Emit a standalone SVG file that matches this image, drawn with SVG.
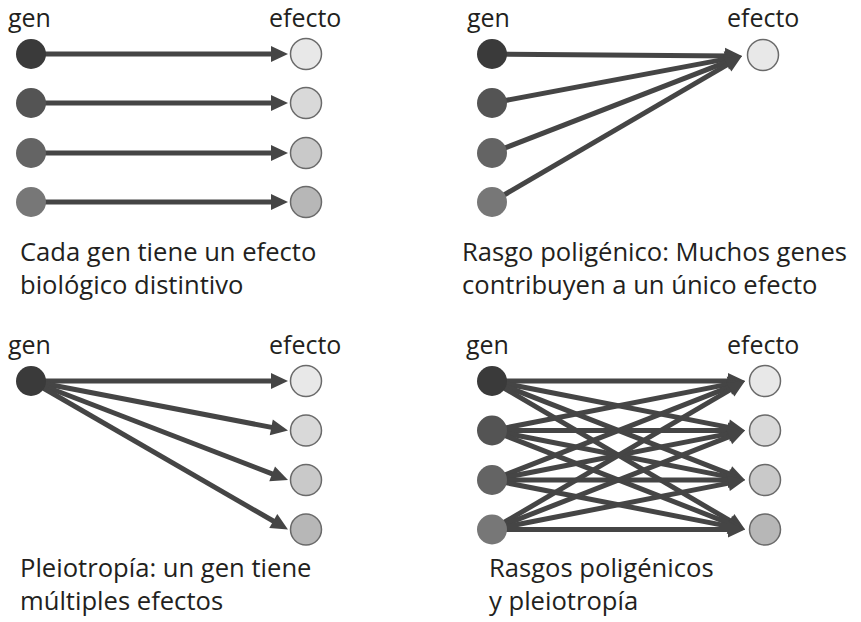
<svg xmlns="http://www.w3.org/2000/svg" width="861" height="622" viewBox="0 0 861 622">
<style>
text{font-family:"Open Sans","Noto Sans","Liberation Sans",sans-serif;fill:#231f20;font-size:25.6px}
.lbl{font-size:25px}
.c line{stroke:#454545;stroke-width:5;marker-end:url(#ah)}
.eff{stroke:#6a6a6a;stroke-width:1.5}
.g1{fill:#3a3a3a}.g2{fill:#545454}.g3{fill:#646464}.g4{fill:#777}
.e1{fill:#e8e8e8}.e2{fill:#d9d9d9}.e3{fill:#c9c9c9}.e4{fill:#b7b7b7}
</style>
<defs>
<marker id="ah" viewBox="0 -10 20 20" markerWidth="20" markerHeight="20" refX="7" refY="0" orient="auto" markerUnits="userSpaceOnUse" overflow="visible">
<path d="M0,-8 L17,0 L0,8 z" fill="#454545"/>
</marker>
</defs>
<rect width="861" height="622" fill="#fff"/>

<!-- Panel 1 -->
<g id="panel1">
<text class="lbl" x="8" y="27">gen</text>
<text class="lbl" x="269" y="27">efecto</text>
<g class="c" id="p1-connectors">
<line x1="31" y1="54" x2="278" y2="54"/>
<line x1="31" y1="103" x2="278" y2="103"/>
<line x1="31" y1="153" x2="278" y2="153"/>
<line x1="31" y1="202" x2="278" y2="202"/>
</g>
<g id="p1-gen1"><circle class="g1" cx="31" cy="54" r="15"/></g>
<g id="p1-gen2"><circle class="g2" cx="31" cy="103" r="15"/></g>
<g id="p1-gen3"><circle class="g3" cx="31" cy="153" r="15"/></g>
<g id="p1-gen4"><circle class="g4" cx="31" cy="202" r="15"/></g>
<g id="p1-eff1"><circle class="eff e1" cx="306" cy="54" r="15.5"/></g>
<g id="p1-eff2"><circle class="eff e2" cx="306" cy="103" r="15.5"/></g>
<g id="p1-eff3"><circle class="eff e3" cx="306" cy="153" r="15.5"/></g>
<g id="p1-eff4"><circle class="eff e4" cx="306" cy="202" r="15.5"/></g>
<text x="20" y="261">Cada gen tiene un efecto</text>
<text x="20" y="294">biológico distintivo</text>
</g>

<!-- Panel 2 -->
<g id="panel2">
<text class="lbl" x="467" y="27">gen</text>
<text class="lbl" x="727" y="27">efecto</text>
<g class="c" id="p2-connectors">
<line x1="492" y1="54" x2="732" y2="55.9"/>
<line x1="492" y1="103" x2="732.17" y2="57.85"/>
<line x1="492" y1="153" x2="732.68" y2="59.62"/>
<line x1="492" y1="202" x2="733.37" y2="61.04"/>
</g>
<g id="p2-gen1"><circle class="g1" cx="492" cy="54" r="15"/></g>
<g id="p2-gen2"><circle class="g2" cx="492" cy="103" r="15"/></g>
<g id="p2-gen3"><circle class="g3" cx="492" cy="153" r="15"/></g>
<g id="p2-gen4"><circle class="g4" cx="492" cy="202" r="15"/></g>
<g id="p2-eff1"><circle class="eff e1" cx="763" cy="55" r="15.5"/></g>
<text x="462" y="261">Rasgo poligénico: Muchos genes</text>
<text x="462" y="294">contribuyen a un único efecto</text>
</g>

<!-- Panel 3 -->
<g id="panel3">
<text class="lbl" x="8" y="354">gen</text>
<text class="lbl" x="269" y="354">efecto</text>
<g class="c" id="p3-connectors">
<line x1="31" y1="381" x2="278" y2="381"/>
<line x1="31" y1="381" x2="278.18" y2="428.61"/>
<line x1="31" y1="381" x2="278.67" y2="476.41"/>
<line x1="31" y1="381" x2="279.34" y2="524.5"/>
</g>
<g id="p3-gen1"><circle class="g1" cx="31" cy="381" r="15"/></g>
<g id="p3-eff1"><circle class="eff e1" cx="306" cy="381" r="15.5"/></g>
<g id="p3-eff2"><circle class="eff e2" cx="306" cy="430.5" r="15.5"/></g>
<g id="p3-eff3"><circle class="eff e3" cx="306" cy="480" r="15.5"/></g>
<g id="p3-eff4"><circle class="eff e4" cx="306" cy="529.5" r="15.5"/></g>
<text x="20" y="577">Pleiotropía: un gen tiene</text>
<text x="20" y="610">múltiples efectos</text>
</g>

<!-- Panel 4 -->
<g id="panel4">
<text class="lbl" x="466" y="354">gen</text>
<text class="lbl" x="727" y="354">efecto</text>
<g class="c" id="p4-connectors">
<line x1="492" y1="381" x2="735" y2="381"/>
<line x1="492" y1="381" x2="735.19" y2="428.58"/>
<line x1="492" y1="381" x2="735.69" y2="476.36"/>
<line x1="492" y1="381" x2="736.38" y2="524.44"/>
<line x1="492" y1="430.5" x2="735.19" y2="382.92"/>
<line x1="492" y1="430.5" x2="735" y2="430.5"/>
<line x1="492" y1="430.5" x2="735.19" y2="478.08"/>
<line x1="492" y1="430.5" x2="735.69" y2="525.86"/>
<line x1="492" y1="480" x2="735.69" y2="384.64"/>
<line x1="492" y1="480" x2="735.19" y2="432.42"/>
<line x1="492" y1="480" x2="735" y2="480"/>
<line x1="492" y1="480" x2="735.19" y2="527.58"/>
<line x1="492" y1="529.5" x2="736.38" y2="386.06"/>
<line x1="492" y1="529.5" x2="735.69" y2="434.14"/>
<line x1="492" y1="529.5" x2="735.19" y2="481.92"/>
<line x1="492" y1="529.5" x2="735" y2="529.5"/>
</g>
<g id="p4-gen1"><circle class="g1" cx="492" cy="381" r="15"/></g>
<g id="p4-gen2"><circle class="g2" cx="492" cy="430.5" r="15"/></g>
<g id="p4-gen3"><circle class="g3" cx="492" cy="480" r="15"/></g>
<g id="p4-gen4"><circle class="g4" cx="492" cy="529.5" r="15"/></g>
<g id="p4-eff1"><circle class="eff e1" cx="765" cy="381" r="15.5"/></g>
<g id="p4-eff2"><circle class="eff e2" cx="765" cy="430.5" r="15.5"/></g>
<g id="p4-eff3"><circle class="eff e3" cx="765" cy="480" r="15.5"/></g>
<g id="p4-eff4"><circle class="eff e4" cx="765" cy="529.5" r="15.5"/></g>
<text x="489" y="577">Rasgos poligénicos</text>
<text x="489" y="610">y pleiotropía</text>
</g>
</svg>
